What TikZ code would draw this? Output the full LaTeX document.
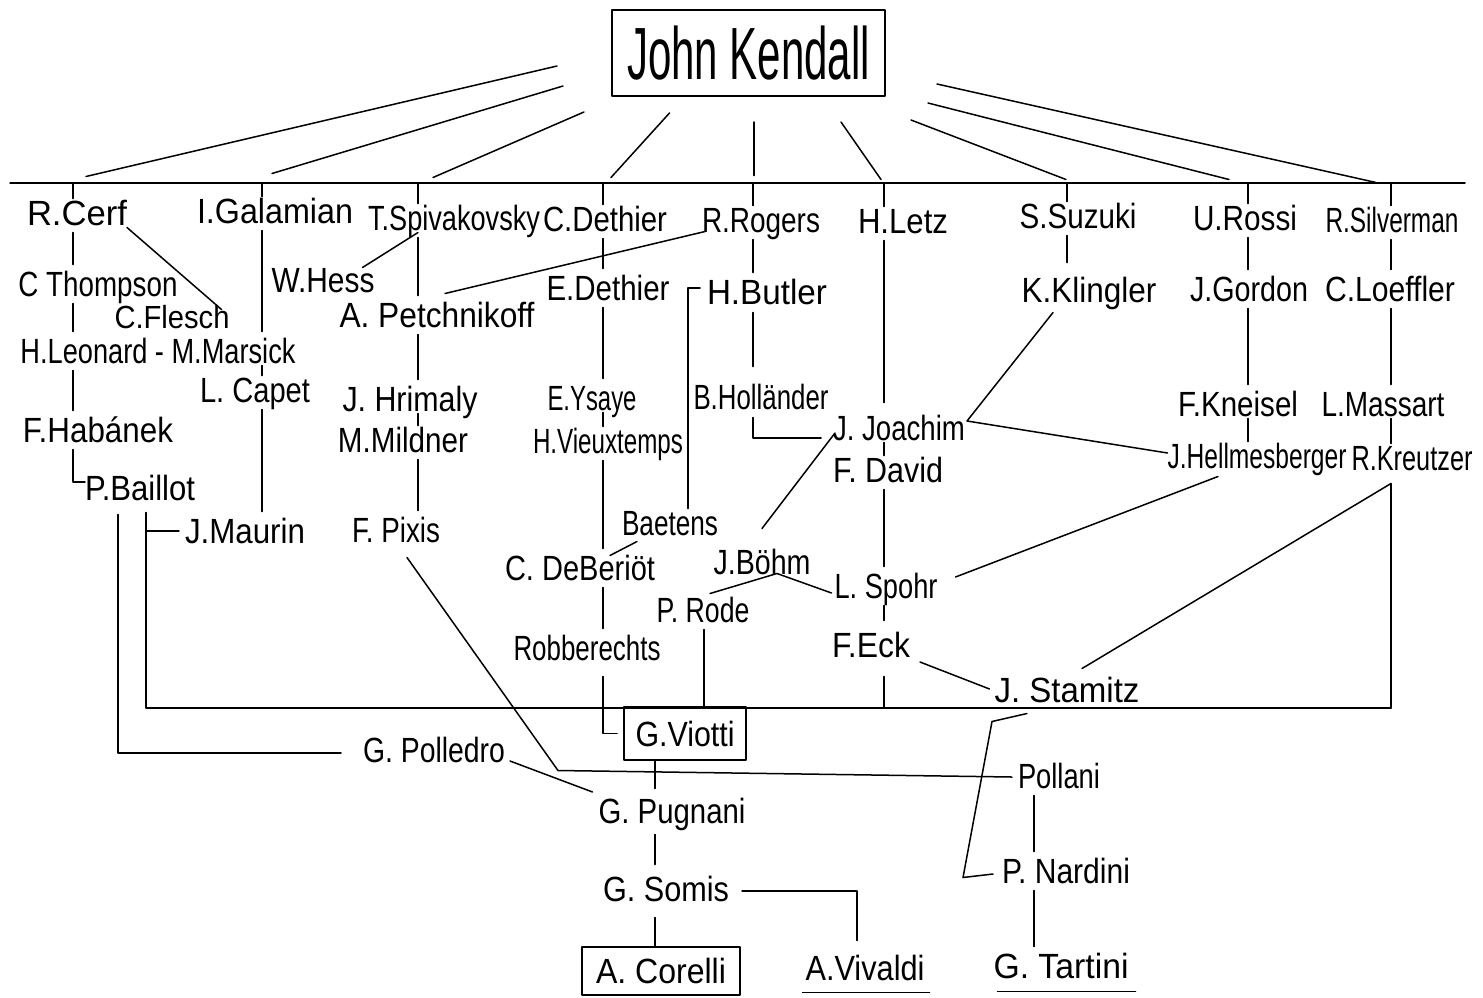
\documentclass[tikz,border=0pt]{standalone}
\usepackage{fontspec}
\setmainfont{Liberation Sans}
\usepackage{graphicx}
\usetikzlibrary{calc}
\newcommand{\lab}[2]{\resizebox{#1pt}{\height}{#2}}
\begin{document}
\begin{tikzpicture}[x=1pt,y=-1pt, line width=1.5pt, line cap=round, line join=round,
  nm/.style={inner sep=0pt, outer sep=0pt, text height=27pt, text depth=2pt, font=\fontsize{35}{40}\selectfont},
  bx/.style={nm, draw, line width=1.8pt},
  lk/.style={shorten <=5pt, shorten >=5pt}]
\useasboundingbox (0,0) rectangle (1483,997);
\fill[white] (0,0) rectangle (1483,997);

% ---------- nodes ----------
\node[draw, line width=1.8pt, inner sep=0pt, outer sep=0pt, minimum width=273pt, minimum height=86pt,
      text height=56pt, text depth=3pt, font=\fontsize{74}{80}\selectfont] (kendall) at (748.5,53) {\lab{243}{John Kendall}\hspace{20pt}};

\node[nm] (cerf)      at (77,213)   {\lab{100}{R.Cerf}};
\node[nm] (galamian)  at (275,211)  {\lab{156}{I.Galamian}};
\node[nm] (spiv)      at (454,218)  {\lab{172}{T.Spivakovsky}};
\node[nm] (cdethier)  at (605,219)  {\lab{124}{C.Dethier}};
\node[nm] (rogers)    at (761,220)  {\lab{118}{R.Rogers}};
\node[nm] (letz)      at (903,221)  {\lab{90}{H.Letz}};
\node[nm] (suzuki)    at (1078,216) {\lab{117}{S.Suzuki}};
\node[nm] (rossi)     at (1245,218) {\lab{104}{U.Rossi}};
\node[nm] (silverman) at (1392,220) {\lab{133}{R.Silverman}};

\node[nm] (thompson)  at (98,284)   {\lab{159}{C Thompson}};
\node[nm, font=\fontsize{32}{36}\selectfont] (flesch) at (172,316) {\lab{115}{C.Flesch}};
\node[nm] (leonard)   at (158,351)  {\lab{275}{H.Leonard - M.Marsick}};
\node[nm] (capet)     at (255,390)  {\lab{110}{L. Capet}};
\node[nm] (habanek)   at (98,430)   {\lab{150}{F.Habánek}};
\node[nm] (baillot)   at (140,488)  {\lab{110}{P.Baillot}};
\node[nm] (maurin)    at (245,531)  {\lab{120}{J.Maurin}};

\node[nm] (hess)      at (323,280)  {\lab{103}{W.Hess}};
\node[nm] (petch)     at (437,315)  {\lab{195}{A. Petchnikoff}};
\node[nm] (hrimaly)   at (410,399)  {\lab{135}{J. Hrimaly}};
\node[nm] (mildner)   at (403,440)  {\lab{130}{M.Mildner}};
\node[nm] (pixis)     at (396,530)  {\lab{88}{F. Pixis}};

\node[nm] (edethier)  at (608,288)  {\lab{123}{E.Dethier}};
\node[nm] (ysaye)     at (592,398)  {\lab{89}{E.Ysaye}};
\node[nm] (vieux)     at (608,441)  {\lab{150}{H.Vieuxtemps}};
\node[nm] (baetens)   at (670,523)  {\lab{96}{Baetens}};
\node[nm] (beriot)    at (580,568)  {\lab{150}{C. DeBeriöt}};
\node[nm] (robber)    at (587,648)  {\lab{147}{Robberechts}};

\node[nm] (butler)    at (767,292)  {\lab{120}{H.Butler}};
\node[nm] (hollander) at (761,397)  {\lab{135}{B.Holländer}};
\node[nm] (joachim)   at (899,428)  {\lab{132}{J. Joachim}};
\node[nm] (david)     at (888,470)  {\lab{110}{F. David}};
\node[nm] (bohm)      at (762,562)  {\lab{97}{J.Böhm}};
\node[nm] (spohr)     at (886,586)  {\lab{103}{L. Spohr}};
\node[nm] (rode)      at (703,610)  {\lab{93}{P. Rode}};
\node[nm] (eck)       at (871,645)  {\lab{78}{F.Eck}};
\node[nm] (stamitz)   at (1067,690) {\lab{145}{J. Stamitz}};

\node[nm] (klingler)  at (1089,290) {\lab{135}{K.Klingler}};
\node[nm] (gordon)    at (1249,289) {\lab{118}{J.Gordon}};
\node[nm] (loeffler)  at (1390,289) {\lab{130}{C.Loeffler}};
\node[nm] (kneisel)   at (1238,404) {\lab{120}{F.Kneisel}};
\node[nm] (massart)   at (1383,404) {\lab{123}{L.Massart}};
\node[nm] (hellm)     at (1257,456) {\lab{179}{J.Hellmesberger}};
\node[nm] (kreutzer)  at (1412,458) {\lab{121}{R.Kreutzer}};

\node[bx, minimum width=122pt, minimum height=53pt] (viotti) at (685,733.5) {\lab{99}{G.Viotti}};
\node[nm] (polledro)  at (434,750)  {\lab{142}{G. Polledro}};
\node[nm] (pugnani)   at (672,811)  {\lab{147}{G. Pugnani}};
\node[nm] (somis)     at (666,889)  {\lab{126}{G. Somis}};
\node[bx, minimum width=158pt, minimum height=48pt] (corelli) at (661,971) {\lab{130}{A. Corelli}};
\node[nm] (vivaldi)   at (865,968)  {\lab{119}{A.Vivaldi}};
\node[nm] (pollani)   at (1059,776) {\lab{82}{Pollani}};
\node[nm] (nardini)   at (1066,871) {\lab{128}{P. Nardini}};
\node[nm] (tartini)   at (1061,966) {\lab{135}{G. Tartini}};

% ---------- coordinates ----------
\coordinate (busL) at (10,183);
\coordinate (busR) at (1465,183);
\coordinate (botL) at (146,708);
\coordinate (botR) at (1391,708);
\coordinate (cA) at (73,0);
\coordinate (cB) at (262,0);
\coordinate (cC) at (418,0);
\coordinate (cD) at (603,0);
\coordinate (cE) at (753,0);
\coordinate (cF) at (884,0);
\coordinate (cG) at (1067,0);
\coordinate (cH) at (1248,0);
\coordinate (cI) at (1391,0);
\coordinate (cJ) at (688,0);
\coordinate (cK) at (118,0);
\coordinate (cL) at (146,0);
\coordinate (cM) at (704,0);
\coordinate (cN) at (655,0);
\coordinate (cO) at (1034,0);

% ---------- top bus ----------
\draw (busL) -- (busR);
\foreach \n/\c in {cerf/cA, galamian/cB, spiv/cC, cdethier/cD, rogers/cE, letz/cF, suzuki/cG, rossi/cH, silverman/cI}
  \draw (busL -| \c) -- (\n.north -| \c);

% lines from John Kendall
\draw ($(kendall.west)+(-55,13)$) -- ($(cerf.north)+(9,-22)$);
\draw ($(kendall.west)+(-49,33)$) -- ($(galamian.north)+(-3,-23)$);
\draw ($(kendall.west)+(-28,59)$) -- ($(spiv.north)+(-21,-26)$);
\draw ($(kendall.south)+(-79,17)$) -- ($(cdethier.north)+(6,-27)$);
\draw ($(kendall.south)+(5.5,26)$) -- ($(rogers.north)+(-7,-30)$);
\draw ($(kendall.south)+(92.5,26)$) -- ($(letz.north)+(-22,-27)$);
\draw ($(kendall.east)+(26,67)$) -- ($(suzuki.north)+(-12,-22)$);
\draw ($(kendall.east)+(43,50)$) -- ($(rossi.north)+(-16,-24)$);
\draw ($(kendall.east)+(52,31)$) -- ($(silverman.north)+(-16,-23)$);

% ---------- left part ----------
\draw[lk] (cerf.south -| cA) -- (thompson.north -| cA);
\draw[lk] (thompson.south -| cA) -- (leonard.north -| cA);
\draw[lk] (leonard.south -| cA) -- (habanek.north -| cA);
\draw[shorten <=5pt] (habanek.south -| cA) |- ($(baillot.west)+(0,-6)$);
\draw (cerf.south east) -- ($(flesch.north east)+(-8,8)$);
\draw[lk] (galamian.south -| cB) -- (leonard.north -| cB);
\draw (leonard.south -| cB) -- (capet.north -| cB);
\draw[lk] (capet.south -| cB) -- (maurin.north -| cB);
\draw[shorten <=12pt] (baillot.south -| cK) |- ($(polledro.west)+(-22,3)$);
\draw[shorten <=10pt] (baillot.south -| cL) -- (botL) -- (botR);
\draw (maurin.west -| cL) -- ($(maurin.west)+(-6,0)$);

% Spivakovsky
\draw[lk] (spiv.south -| cC) -- (petch.north -| cC);
\draw (spiv.south -| cC) -- ($(hess.north east)+(-12,2)$);
\draw[lk] (petch.south -| cC) -- (hrimaly.north -| cC);
\draw (hrimaly.south -| cC) -- (mildner.north -| cC);
\draw[lk] (mildner.south -| cC) -- (pixis.north -| cC);
\draw ($(rogers.south west)+(3,-3)$) -- ($(petch.north)+(8,-7)$);

% Dethier
\draw[lk] (cdethier.south -| cD) -- (edethier.north -| cD);
\draw[lk] (edethier.south -| cD) -- (ysaye.north -| cD);
\draw (ysaye.south -| cD) -- (vieux.north -| cD);
\draw[lk] (vieux.south -| cD) -- (beriot.north -| cD);
\draw[lk] (beriot.south -| cD) -- (robber.north -| cD);
\draw[shorten <=14pt, shorten >=7pt] (robber.south -| cD) |- (viotti.west);
\draw ($(baetens.south west)+(15,4)$) -- ($(beriot.north)+(30,2)$);

% Rogers
\draw[lk] (rogers.south -| cE) -- (butler.north -| cE);
\draw[shorten <=6pt, shorten >=16pt] (butler.south -| cE) -- (hollander.north -| cE);
\draw[shorten <=6pt] (hollander.south -| cE) |- ($(joachim.west)+(-12,10)$);
\draw ($(butler.west)+(-7,-4)$) -| (baetens.north -| cJ);

% Letz / Joachim
\draw[shorten <=5pt, shorten >=11pt] (letz.south -| cF) -- (joachim.north -| cF);
\draw (joachim.south -| cF) -- (david.north -| cF);
\draw[lk] (david.south -| cF) -- (spohr.north -| cF);
\draw[shorten <=5pt, shorten >=10pt] (spohr.south -| cF) -- (eck.north -| cF);
\draw[shorten <=17pt] (eck.south -| cF) -- (botL -| cF);
\draw ($(joachim.west)+(2,5)$) -- ($(bohm.north)+(0,-19)$);
\draw ($(rode.north)+(7,-2)$) -- ($(bohm.south)+(15,-3)$) -- ($(spohr.west)+(-3,7)$);
\draw ($(eck.east)+(10,17)$) -- ($(stamitz.west)+(-5,-1)$);
\draw ($(spohr.east)+(18,-9)$) -- ($(hellm.south)+(-39,6)$);
\draw[shorten <=5pt] (rode.south -| cM) -- (botL -| cM);

% Suzuki / Rossi / Silverman
\draw[shorten <=5pt, shorten >=13pt] (suzuki.south -| cG) -- (klingler.north -| cG);
\draw ($(klingler.south)+(-36,8)$) -- ($(joachim.east)+(2,-7)$) -- ($(hellm.west)+(0,-3)$);
\draw[lk] (rossi.south -| cH) -- (gordon.north -| cH);
\draw[lk] (gordon.south -| cH) -- (kneisel.north -| cH);
\draw (kneisel.south -| cH) -- (hellm.north -| cH);
\draw[lk] (silverman.south -| cI) -- (loeffler.north -| cI);
\draw[lk] (loeffler.south -| cI) -- (massart.north -| cI);
\draw (massart.south -| cI) -- (kreutzer.north -| cI);
\draw[shorten <=11pt] (kreutzer.south -| cI) -- (botR);
\draw ($(kreutzer.south)+(-21,11)$) -- ($(stamitz.north)+(15,-7)$);

% Stamitz -> Nardini
\draw ($(stamitz.south)+(-40,9)$) -- ++(-35,8) -- ++(-29,156) -- ($(nardini.west)+(-9,3)$);

% bottom part
\draw ($(pixis.south)+(11,13)$) -- ++(151,213) -- ($(pollani.west)+(-6,1)$);
\draw ($(polledro.east)+(5,11)$) -- ($(pugnani.west)+(-6,-19)$);
\draw[shorten >=8pt] (viotti.south -| cN) -- (pugnani.north -| cN);
\draw[shorten <=9pt, shorten >=10pt] (pugnani.south -| cN) -- (somis.north -| cN);
\draw[shorten <=14pt] (somis.south -| cN) -- (corelli.north -| cN);
\draw ($(somis.east)+(13,2)$) -| ($(vivaldi.north)+(-8,-13)$);
\draw[lk] (pollani.south -| cO) -- (nardini.north -| cO);
\draw[lk] (nardini.south -| cO) -- (tartini.north -| cO);

% underlines
\draw ($(vivaldi.south west)+(-3,10)$) -- ($(vivaldi.south east)+(5,10)$);
\draw ($(tartini.south west)+(4,11)$) -- ($(tartini.south east)+(7,11)$);
\end{tikzpicture}
\end{document}
